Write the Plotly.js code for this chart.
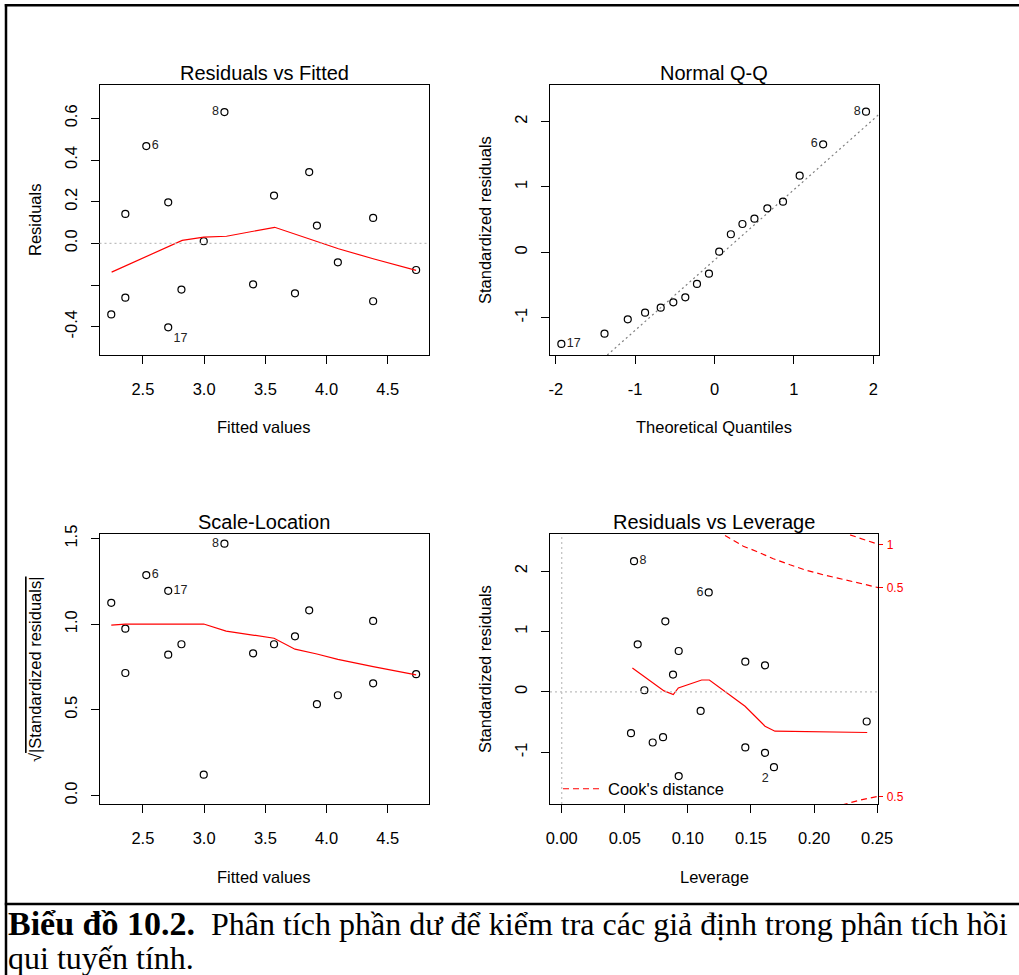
<!DOCTYPE html>
<html><head><meta charset="utf-8">
<script src="https://cdn.plot.ly/plotly-3.0.1.min.js"></script>
<style>
html,body{margin:0;padding:0;background:#fff;overflow:hidden}
#wrap{position:relative;width:1019px;height:975px;overflow:hidden}
#chart{position:absolute;left:0;top:0;width:1019px;height:975px}
#caption{position:absolute;left:8px;top:907px;margin:0;font-family:'Liberation Serif','Times New Roman',serif;font-size:32px;line-height:34px;color:#000;white-space:nowrap}
#caption b{font-size:34px}
</style>
</head><body><div id="wrap"><div id="chart"></div>
<p id="caption"><b>Biểu đồ 10.2.</b>&nbsp; Phân tích phần dư để kiểm tra các giả định trong phân tích hồi<br>qui tuyến tính.</p></div>
<script>
// ---------- DATA ----------
// Residuals vs Fitted (observation order shared with Scale-Location)
const fittedValues = [2.242, 2.357, 2.357, 2.528, 2.707, 2.707, 2.815, 2.997, 3.166, 3.400, 3.571, 3.742, 3.858, 3.921, 4.092, 4.380, 4.380, 4.731];
const residuals    = [-0.341, 0.141, -0.261, 0.467, 0.197, -0.403, -0.222, 0.010, 0.630, -0.197, 0.229, -0.240, 0.342, 0.085, -0.091, 0.122, -0.278, -0.128];
const fittedLabels = ['', '', '', '6', '', '17', '', '', '8', '', '', '', '', '', '', '', '', ''];
const rvfSmoothX = [2.245, 2.707, 2.821, 2.997, 3.183, 3.576, 3.731, 3.921, 4.097, 4.380, 4.731];
const rvfSmoothY = [-0.138, -0.014, 0.014, 0.030, 0.034, 0.077, 0.046, 0.010, -0.026, -0.074, -0.130];

// Normal Q-Q
const theoreticalQuantiles = [-1.930, -1.386, -1.093, -0.875, -0.678, -0.519, -0.368, -0.221, -0.070, 0.059, 0.206, 0.352, 0.503, 0.666, 0.863, 1.073, 1.369, 1.909];
const sortedStdResiduals   = [-1.404, -1.246, -1.026, -0.925, -0.848, -0.766, -0.689, -0.485, -0.328, 0.009, 0.276, 0.433, 0.515, 0.674, 0.775, 1.173, 1.654, 2.153];
const qqLabels = ['17', '', '', '', '', '', '', '', '', '', '', '', '', '', '', '', '6', '8'];
const qqLineX = [-1.352, 2.069];
const qqLineY = [-1.574, 2.108];

// Scale-Location (same observation order as fittedValues)
const sqrtAbsStdResiduals = [1.125, 0.715, 0.974, 1.287, 0.822, 1.195, 0.883, 0.121, 1.470, 0.830, 0.883, 0.929, 1.081, 0.533, 0.585, 0.655, 1.019, 0.708];
const scaleLabels = ['', '', '', '6', '', '17', '', '', '8', '', '', '', '', '', '', '', '', ''];
const slSmoothX = [2.242, 2.357, 2.997, 3.180, 3.571, 3.742, 3.921, 4.092, 4.380, 4.731];
const slSmoothY = [0.995, 1.001, 1.001, 0.960, 0.918, 0.854, 0.826, 0.795, 0.752, 0.704];

// Residuals vs Leverage
const leverage       = [0.0573, 0.0602, 0.0655, 0.0549, 0.0721, 0.0803, 0.0821, 0.0882, 0.0927, 0.0927, 0.1101, 0.1165, 0.1455, 0.1455, 0.1611, 0.1611, 0.1682, 0.2417];
const levStdResiduals= [2.165, 0.788, 0.028, -0.683, -0.837, -0.749, 1.169, 0.287, 0.678, -1.393, -0.314, 1.648, 0.502, -0.919, 0.441, -1.008, -1.245, -0.489];
const leverageLabels = ['8', '', '', '', '', '', '', '', '', '', '', '6', '', '', '', '', '2', ''];
const rvlSmoothX = [0.0560, 0.0700, 0.0811, 0.0884, 0.0924, 0.1109, 0.1170, 0.1453, 0.1611, 0.1690, 0.2421];
const rvlSmoothY = [0.397, 0.193, 0.017, -0.043, 0.066, 0.198, 0.198, -0.236, -0.567, -0.650, -0.671];
const cookUpperHalfX = [0.1294, 0.1439, 0.1545, 0.1677, 0.1809, 0.1941, 0.2073, 0.2205, 0.2338, 0.2496, 0.2509];
const cookUpperHalfY = [2.590, 2.413, 2.326, 2.205, 2.105, 2.012, 1.940, 1.874, 1.808, 1.736, 1.728];
const cookUpperOneX = [0.2285, 0.2390, 0.2509];
const cookUpperOneY = [2.600, 2.524, 2.444];
const cookLowerHalfX = [0.2219, 0.2364, 0.2509];
const cookLowerHalfY = [-1.873, -1.790, -1.728];
const cookLevels = ['0.5', '1', '0.5'];
const cookLevelY = [1.728, 2.444, -1.728];

// Tick labels
const fittedTicks = [2.5, 3.0, 3.5, 4.0, 4.5];
const fittedTickText = ['2.5', '3.0', '3.5', '4.0', '4.5'];
const residTicks = [-0.4, -0.2, 0.0, 0.2, 0.4, 0.6];
const residTickText = ['-0.4', '', '0.0', '0.2', '0.4', '0.6'];
const qTicks = [-2, -1, 0, 1, 2];
const qTickText = ['-2', '-1', '0', '1', '2'];
const stdTicks = [-1, 0, 1, 2];
const stdTickText = ['-1', '0', '1', '2'];
const sqrtTicks = [0.0, 0.5, 1.0, 1.5];
const sqrtTickText = ['0.0', '0.5', '1.0', '1.5'];
const levTicks = [0.00, 0.05, 0.10, 0.15, 0.20, 0.25];
const levTickText = ['0.00', '0.05', '0.10', '0.15', '0.20', '0.25'];

// ---------- LAYOUT HELPERS ----------
const W = 1019, H = 975;
const px = x => x / W, py = y => 1 - y / H;
const P = {
  rvf: {l: 99.5, r: 428.5, t: 85, b: 355},
  qq:  {l: 550,  r: 878.7, t: 85, b: 355},
  sl:  {l: 99.5, r: 428.5, t: 534.3, b: 804},
  rvl: {l: 550,  r: 878.3, t: 534.3, b: 804}
};
const SANS = 'Liberation Sans, Arial, sans-serif';
const axBase = {
  showline: true, mirror: true, linecolor: '#000', linewidth: 1,
  ticks: 'outside', ticklen: 8, tickwidth: 1, tickcolor: '#000',
  showgrid: false, zeroline: false, automargin: false, fixedrange: true,
  tickmode: 'array', tickfont: {family: SANS, size: 16.5, color: '#000'}
};
function xAxis(p, range, vals, text, anchor) {
  return Object.assign({}, axBase, {domain: [px(p.l), px(p.r)], range: range, tickvals: vals, ticktext: text, anchor: anchor, ticklabelstandoff: 11});
}
function yAxis(p, range, vals, text, anchor) {
  return Object.assign({}, axBase, {domain: [py(p.b), py(p.t)], range: range, tickvals: vals, ticktext: text, anchor: anchor, tickangle: -90, ticklabelstandoff: 7});
}
function positions(labels, map) { return labels.map(l => map[l] || 'middle right'); }

const pointStyle = {symbol: 'circle-open', size: 7, color: '#000', line: {width: 1.2, color: '#000'}};
const labelFont = {family: SANS, size: 12.5, color: '#222'};
const red = '#FF0000';

const traces = [
  {x: fittedValues, y: residuals, xaxis: 'x', yaxis: 'y', mode: 'markers+text', text: fittedLabels,
   textposition: positions(fittedLabels, {'6': 'middle right', '17': 'bottom right', '8': 'middle left'}),
   marker: pointStyle, textfont: labelFont, cliponaxis: false, showlegend: false, hoverinfo: 'skip'},
  {x: rvfSmoothX, y: rvfSmoothY, xaxis: 'x', yaxis: 'y', mode: 'lines', line: {color: red, width: 1.2}, showlegend: false, hoverinfo: 'skip'},

  {x: qqLineX, y: qqLineY, xaxis: 'x2', yaxis: 'y2', mode: 'lines', line: {color: '#7f7f7f', width: 1.2, dash: '2px,3px'}, showlegend: false, hoverinfo: 'skip'},
  {x: theoreticalQuantiles, y: sortedStdResiduals, xaxis: 'x2', yaxis: 'y2', mode: 'markers+text', text: qqLabels,
   textposition: positions(qqLabels, {'17': 'middle right', '6': 'middle left', '8': 'middle left'}),
   marker: pointStyle, textfont: labelFont, cliponaxis: false, showlegend: false, hoverinfo: 'skip'},

  {x: fittedValues, y: sqrtAbsStdResiduals, xaxis: 'x3', yaxis: 'y3', mode: 'markers+text', text: scaleLabels,
   textposition: positions(scaleLabels, {'6': 'middle right', '17': 'middle right', '8': 'middle left'}),
   marker: pointStyle, textfont: labelFont, cliponaxis: false, showlegend: false, hoverinfo: 'skip'},
  {x: slSmoothX, y: slSmoothY, xaxis: 'x3', yaxis: 'y3', mode: 'lines', line: {color: red, width: 1.2}, showlegend: false, hoverinfo: 'skip'},

  {x: leverage, y: levStdResiduals, xaxis: 'x4', yaxis: 'y4', mode: 'markers+text', text: leverageLabels,
   textposition: positions(leverageLabels, {'8': 'middle right', '6': 'middle left', '2': 'bottom left'}),
   marker: pointStyle, textfont: labelFont, cliponaxis: false, showlegend: false, hoverinfo: 'skip'},
  {x: rvlSmoothX, y: rvlSmoothY, xaxis: 'x4', yaxis: 'y4', mode: 'lines', line: {color: red, width: 1.2}, showlegend: false, hoverinfo: 'skip'},
  {x: cookUpperHalfX, y: cookUpperHalfY, xaxis: 'x4', yaxis: 'y5', mode: 'lines', name: "Cook's distance",
   line: {color: red, width: 1.2, dash: '6px,4px'}, showlegend: true, hoverinfo: 'skip'},
  {x: cookUpperOneX, y: cookUpperOneY, xaxis: 'x4', yaxis: 'y5', mode: 'lines', line: {color: red, width: 1.2, dash: '6px,4px'}, showlegend: false, hoverinfo: 'skip'},
  {x: cookLowerHalfX, y: cookLowerHalfY, xaxis: 'x4', yaxis: 'y5', mode: 'lines', line: {color: red, width: 1.2, dash: '6px,4px'}, showlegend: false, hoverinfo: 'skip'}
];

const rvlYRange = [-1.855, 2.61];
const layout = {
  width: W, height: H, margin: {l: 0, r: 0, t: 0, b: 0},
  paper_bgcolor: 'rgba(0,0,0,0)', plot_bgcolor: '#fff',
  font: {family: SANS, color: '#000'},
  xaxis:  xAxis(P.rvf, [2.146, 4.832], fittedTicks, fittedTickText, 'y'),
  yaxis:  yAxis(P.rvf, [-0.536, 0.760], residTicks, residTickText, 'x'),
  xaxis2: xAxis(P.qq, [-2.073, 2.069], qTicks, qTickText, 'y2'),
  yaxis2: yAxis(P.qq, [-1.573, 2.562], stdTicks, stdTickText, 'x2'),
  xaxis3: xAxis(P.sl, [2.146, 4.832], fittedTicks, fittedTickText, 'y3'),
  yaxis3: yAxis(P.sl, [-0.050, 1.525], sqrtTicks, sqrtTickText, 'x3'),
  xaxis4: xAxis(P.rvl, [-0.0093, 0.2509], levTicks, levTickText, 'y4'),
  yaxis4: yAxis(P.rvl, rvlYRange, stdTicks, stdTickText, 'x4'),
  yaxis5: {overlaying: 'y4', anchor: 'x4', side: 'right', range: rvlYRange, showline: false, showgrid: false, zeroline: false,
           ticks: 'outside', ticklen: 4, tickwidth: 1, tickcolor: red, tickmode: 'array', tickvals: cookLevelY, ticktext: cookLevels,
           tickfont: {family: SANS, size: 12, color: red}, ticklabelstandoff: 1, automargin: false, fixedrange: true},
  showlegend: true,
  legend: {x: px(558), y: py(789), xanchor: 'left', yanchor: 'middle', bgcolor: 'rgba(0,0,0,0)', borderwidth: 0,
           font: {family: SANS, size: 16.5, color: '#000'}, itemwidth: 40},
  shapes: [
    // reference lines
    {type: 'line', xref: 'x domain', yref: 'y', x0: 0, x1: 1, y0: 0, y1: 0, line: {color: '#bebebe', width: 1.2, dash: '2px,3px'}},
    {type: 'line', xref: 'x4 domain', yref: 'y4', x0: 0, x1: 1, y0: 0, y1: 0, line: {color: '#bebebe', width: 1.2, dash: '2px,3px'}},
    {type: 'line', xref: 'x4', yref: 'y4 domain', x0: 0, x1: 0, y0: 0, y1: 1, line: {color: '#bebebe', width: 1.2, dash: '2px,3px'}},
    // outer frame and caption divider
    {type: 'line', xref: 'paper', yref: 'paper', x0: px(4.8), x1: 1, y0: py(5.3), y1: py(5.3), line: {color: '#000', width: 2.5}},
    {type: 'line', xref: 'paper', yref: 'paper', x0: px(6), x1: px(6), y0: py(4), y1: 0, line: {color: '#000', width: 2.5}},
    {type: 'line', xref: 'paper', yref: 'paper', x0: px(4.8), x1: 1, y0: py(904), y1: py(904), line: {color: '#000', width: 2.5}}
  ],
  annotations: []
};

function ann(text, x, y, opts) {
  layout.annotations.push(Object.assign({text: text, xref: 'paper', yref: 'paper', x: px(x), y: py(y), xanchor: 'center', yanchor: 'middle',
    showarrow: false, font: {family: SANS, size: 16.5, color: '#000'}}, opts || {}));
}
// panel titles
const titleFont = {family: SANS, size: 20, color: '#000'};
ann('Residuals vs Fitted', 264, 73, {font: titleFont});
ann('Normal Q-Q', 714, 73, {font: titleFont});
ann('Scale-Location', 264, 522, {font: titleFont});
ann('Residuals vs Leverage', 714, 522, {font: titleFont});
// axis titles
ann('Fitted values', 264, 427);
ann('Theoretical Quantiles', 714, 427);
ann('Fitted values', 264, 877);
ann('Leverage', 714, 877);
ann('Residuals', 35, 220, {textangle: -90});
ann('Standardized residuals', 485, 220, {textangle: -90});
ann('√<span style="text-decoration:overline">|Standardized residuals|</span>', 35, 669, {textangle: -90});
ann('Standardized residuals', 485, 669, {textangle: -90});

Plotly.newPlot('chart', traces, layout, {staticPlot: true, displayModeBar: false});
</script></body></html>
